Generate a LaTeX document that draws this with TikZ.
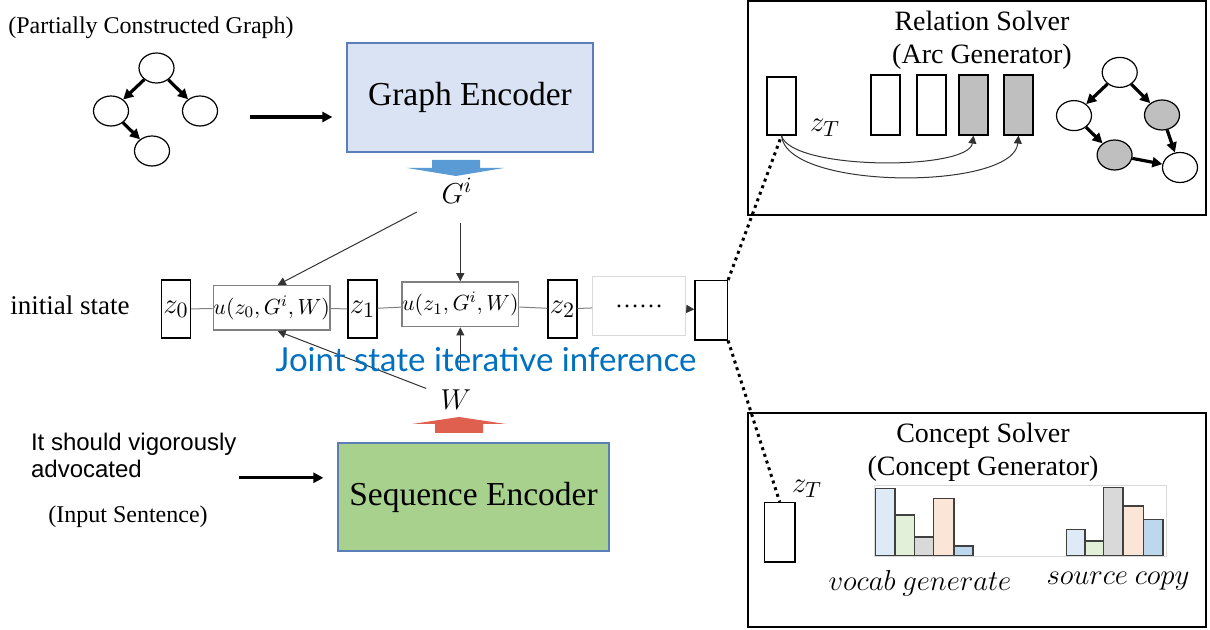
\documentclass[tikz,border=0pt]{standalone}
\usepackage{fontspec}
\setmainfont{Liberation Serif}
\newfontfamily\arialfont{Liberation Sans}
\newfontfamily\jointfont{Lato}
\usepackage{xcolor}
\usetikzlibrary{arrows.meta,positioning,shapes.geometric}

\definecolor{encblue}{HTML}{DAE3F3}
\definecolor{encborder}{HTML}{5B7DB8}
\definecolor{seqgreen}{HTML}{A9D18E}
\definecolor{arrowblue}{HTML}{5B9BD5}
\definecolor{arrowred}{HTML}{E06050}
\definecolor{jointblue}{HTML}{0070C0}
\definecolor{barblue}{HTML}{DEEBF7}
\definecolor{bargreen}{HTML}{E2F0D9}
\definecolor{bargray}{HTML}{D9D9D9}
\definecolor{barpeach}{HTML}{FBE5D6}
\definecolor{bardeep}{HTML}{BDD7EE}
\definecolor{nodegray}{HTML}{BFBFBF}
\definecolor{linegray}{HTML}{808080}

\begin{document}
\begin{tikzpicture}[x=0.5pt,y=-0.5pt,
    gnode/.style={draw,ellipse,line width=0.6pt,minimum width=17.5pt,minimum height=15pt,inner sep=0pt},
    garrow/.style={-{Triangle[length=5pt,width=5pt]},line width=1.6pt},
    zbox/.style={draw,line width=0.7pt,minimum width=14.5pt,minimum height=29pt,inner sep=0pt,font=\fontsize{15}{17}\selectfont},
    ubox/.style={draw=linegray,line width=0.8pt,minimum width=56pt,minimum height=22.3pt,inner sep=0pt,font=\fontsize{10.8}{12}\selectfont},
    thin arrow/.style={-{Triangle[length=4pt,width=4pt]},line width=0.5pt,draw=black!80},
    arcbox/.style={draw,line width=0.6pt,minimum width=14.5pt,minimum height=30pt,inner sep=0pt}]
    \useasboundingbox (0,0) rectangle (1210,630);

    % Partially constructed graph
    \node[font=\fontsize{12}{14}\selectfont] (ptitle) at (151,28) {(Partially Constructed Graph)};
    \node[gnode] (p1) at (156.5,68) {};
    \node[gnode] (p2) at (111,111) {};
    \node[gnode] (p3) at (200,111) {};
    \node[gnode] (p4) at (152,151) {};
    \draw[garrow] (p1) -- (p2);
    \draw[garrow] (p1) -- (p3);
    \draw[garrow] (p2) -- (p4);

    % Encoders
    \node[draw=encborder,fill=encblue,line width=0.6pt,minimum width=123pt,minimum height=54.5pt,
          font=\fontsize{16.75}{20}\selectfont] (genc) at (470,97.5) {Graph Encoder};
    \node[draw=encborder,fill=seqgreen,line width=0.6pt,minimum width=135.5pt,minimum height=54pt,
          font=\fontsize{16.75}{20}\selectfont] (senc) at (473.5,497) {Sequence Encoder};
    \draw[garrow] ([xshift=16pt,yshift=-3pt]p3.east) -- ([xshift=-7pt,yshift=-9.75pt]genc.west);

    % Input sentence
    \node[anchor=west,align=left,font=\arialfont\fontsize{12}{13.5}\selectfont] (sent) at (24,455)
        {It should vigorously\\advocated};
    \node[font=\fontsize{12}{14}\selectfont] (stitle) at (128,517) {(Input Sentence)};
    \draw[garrow] ([xshift=-49pt,yshift=9.6pt]senc.west) -- ([xshift=-7pt,yshift=9.6pt]senc.west);

    % Block arrows
    \fill[arrowblue] (432,160) -- (480,160) -- (480,168) -- (504,168) -- (456,176) -- (407,168) -- (432,168) -- cycle;
    \fill[arrowred] (435,433) -- (435,424) -- (412,424) -- (459,417) -- (506,424) -- (483,424) -- (483,433) -- cycle;
    \node[font=\fontsize{15}{17}\selectfont] (gi) at (457,191) {$G^i$};
    \node[font=\fontsize{15}{17}\selectfont] (w) at (456,400) {$W$};

    % Joint state chain
    \node[font=\fontsize{13.5}{16}\selectfont] (init) at (70,305) {initial state};
    \node[zbox] (z0) at (176,309) {$z_0$};
    \node[ubox] (u0) at (271.7,308) {$u(z_0,G^i,W)$};
    \node[zbox] (z1) at (362.5,309) {$z_1$};
    \node[ubox] (u1) at (460.3,304.3) {$u(z_1,G^i,W)$};
    \node[zbox] (z2) at (562.5,309) {$z_2$};
    \node[draw=bargray,line width=0.5pt,minimum width=46.5pt,minimum height=29.3pt,inner sep=0pt,
          font=\fontsize{12}{14}\selectfont] (dots) at (639.2,306.3) {……};
    \node[draw,line width=0.7pt,minimum width=16.2pt,minimum height=29.6pt,inner sep=0pt] (fin) at (711.2,310.3) {};
    \draw[linegray,line width=0.5pt] (z0) -- (u0) -- (z1) -- (u1) -- (z2) -- (dots);
    \draw[thin arrow] (dots) -- (fin);
    \draw[thin arrow,shorten <=10pt] (gi) -- ([xshift=3pt]u0.north);
    \draw[thin arrow,shorten <=6pt] (gi.south -| u1) -- (u1.north);
    \draw[thin arrow,shorten <=4pt] (w) -- ([xshift=3pt]u0.south);
    \draw[thin arrow,shorten <=6pt] (w.north -| u1) -- (u1.south);
    \node[anchor=base,text=jointblue,font=\jointfont\fontsize{16.5}{18}\selectfont] (joint) at (486,372)
        {Joint state iterative inference};

    % Relation solver
    \draw[line width=0.7pt] (748,1) rectangle (1206,215);
    \node[align=center,font=\fontsize{14}{16.5}\selectfont] (rtitle) at (982,40) {Relation Solver\\(Arc Generator)};
    \node[zbox] (zrel) at (781.5,106) {};
    \node[font=\fontsize{15}{17}\selectfont] (zrlab) at (825,128) {$z_T$};
    \node[arcbox] (a1) at (885.5,105) {};
    \node[arcbox] (a2) at (931.5,105) {};
    \node[arcbox,fill=nodegray] (a3) at (973.5,105) {};
    \node[arcbox,fill=nodegray] (a4) at (1018.5,105) {};
    \draw[thin arrow] (zrel.south) .. controls +(10,35) and +(-5,35) .. (a3.south);
    \draw[thin arrow] (zrel.south) .. controls +(5,55) and +(-5,55) .. (a4.south);
    \node[gnode] (r1) at (1119.7,72.4) {};
    \node[gnode] (r2) at (1074,115.6) {};
    \node[gnode,fill=nodegray] (r3) at (1162,115) {};
    \node[gnode,fill=nodegray] (r4) at (1114.6,155) {};
    \node[gnode] (r5) at (1180,167.5) {};
    \draw[garrow] (r1) -- (r2);
    \draw[garrow] (r1) -- (r3);
    \draw[garrow] (r2) -- (r4);
    \draw[garrow] (r3) -- (r5);
    \draw[garrow] (r4) -- (r5);

    % Concept solver
    \draw[line width=0.7pt] (748,413) rectangle (1206,627);
    \node[align=center,font=\fontsize{14}{16.5}\selectfont] (ctitle) at (983,452) {Concept Solver\\(Concept Generator)};
    \node[zbox,minimum width=15.2pt,minimum height=29.7pt] (zcon) at (779.7,532.3) {};
    \node[font=\fontsize{15}{17}\selectfont] (zclab) at (807,489) {$z_T$};
    \draw[bargray,line width=0.5pt] (874.6,485) rectangle (1166,556.6);
    \draw[black!75,line width=0.8pt,fill=barblue] (875.6,555.6) rectangle (895,488.5);
    \draw[black!75,line width=0.8pt,fill=bargreen] (895,555.6) rectangle (914.4,515);
    \draw[black!75,line width=0.8pt,fill=bargray] (914.4,555.6) rectangle (933.6,537);
    \draw[black!75,line width=0.8pt,fill=barpeach] (933.6,555.6) rectangle (953.7,498.6);
    \draw[black!75,line width=0.8pt,fill=bardeep] (953.7,555.6) rectangle (973,545.8);
    \draw[black!75,line width=0.8pt,fill=barblue] (1066.5,555.6) rectangle (1085,529.6);
    \draw[black!75,line width=0.8pt,fill=bargreen] (1085,555.6) rectangle (1103.6,540.7);
    \draw[black!75,line width=0.8pt,fill=bargray] (1103.6,555.6) rectangle (1122.8,487.5);
    \draw[black!75,line width=0.8pt,fill=barpeach] (1122.8,555.6) rectangle (1143.3,506);
    \draw[black!75,line width=0.8pt,fill=bardeep] (1143.3,555.6) rectangle (1163,519.5);
    \node[font=\fontsize{13.5}{15}\selectfont] (vlab) at (920,583) {$vocab\ generate$};
    \node[font=\fontsize{13.5}{15}\selectfont] (slab) at (1118,581) {$source\ copy$};

    % Links to the solvers
    \draw[line width=1.5pt,dotted] (fin.north east) -- (zrel.south);
    \draw[line width=1.5pt,dotted] (fin.south east) -- (zcon.north);
\end{tikzpicture}
\end{document}
